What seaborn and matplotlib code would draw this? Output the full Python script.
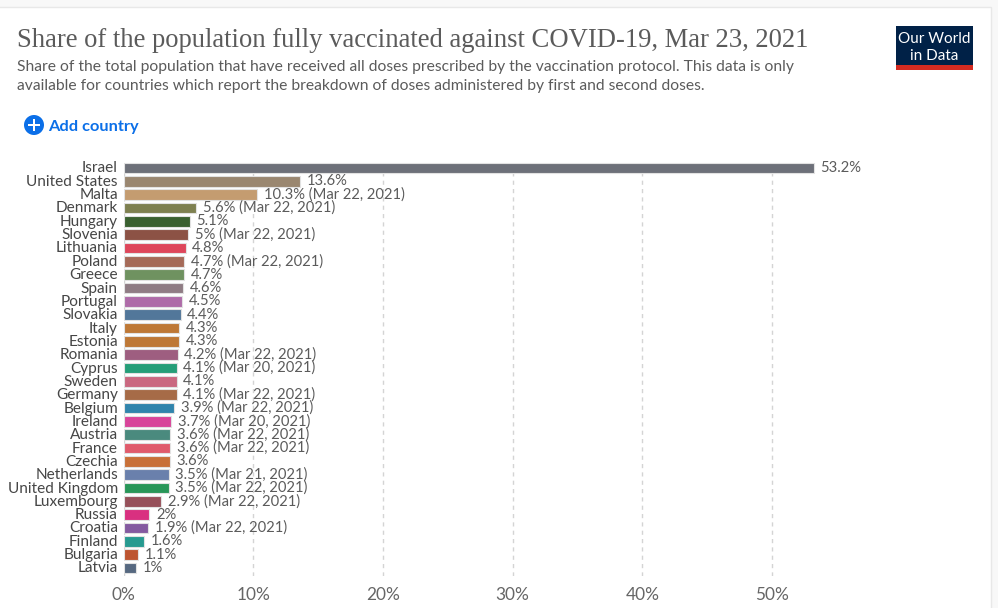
import matplotlib
matplotlib.use("Agg")
import matplotlib.pyplot as plt
from matplotlib.patches import Rectangle, Circle
from matplotlib.transforms import IdentityTransform, ScaledTranslation
import pandas as pd
import seaborn as sns

countries = ["Israel", "United States", "Malta", "Denmark", "Hungary", "Slovenia", "Lithuania", "Poland",
             "Greece", "Spain", "Portugal", "Slovakia", "Italy", "Estonia", "Romania", "Cyprus", "Sweden",
             "Germany", "Belgium", "Ireland", "Austria", "France", "Czechia", "Netherlands", "United Kingdom",
             "Luxembourg", "Russia", "Croatia", "Finland", "Bulgaria", "Latvia"]
values = [53.2, 13.6, 10.3, 5.6, 5.1, 5, 4.8, 4.7, 4.7, 4.6, 4.5, 4.4, 4.3, 4.3, 4.2, 4.1, 4.1, 4.1, 3.9,
          3.7, 3.6, 3.6, 3.6, 3.5, 3.5, 2.9, 2, 1.9, 1.6, 1.1, 1]
dates = ["", "", "Mar 22, 2021", "Mar 22, 2021", "", "Mar 22, 2021", "", "Mar 22, 2021", "", "", "", "", "", "",
         "Mar 22, 2021", "Mar 20, 2021", "", "Mar 22, 2021", "Mar 22, 2021", "Mar 20, 2021", "Mar 22, 2021",
         "Mar 22, 2021", "", "Mar 21, 2021", "Mar 22, 2021", "Mar 22, 2021", "", "Mar 22, 2021", "", "", ""]
colors = ["#6D7079", "#9A8770", "#C49C70", "#7E8050", "#3A6030", "#8C5245", "#DE465B", "#A56A58", "#6F9260",
          "#8F7C84", "#AE6BA8", "#52779A", "#BE7836", "#BE7836", "#9E5E80", "#259E78", "#CA6880", "#A66B47",
          "#3084AC", "#D8449A", "#4A8A7E", "#E05B6C", "#C87038", "#6A80AC", "#289658", "#96505A", "#D93080",
          "#845AA0", "#279A90", "#BD5530", "#566880"]
x_ticks = [0, 10, 20, 30, 40, 50]

W, H = 998, 608
sns.set_theme(style="white")
plt.rcParams["font.family"] = ["Lato", "DejaVu Sans"]

fig = plt.figure(figsize=(W / 100, H / 100), dpi=100, facecolor="#F8F8F8")


def fx(x):
    return x / W


def fy(y):
    return 1 - y / H


def px_rect(x0, y0, x1, y1, **kw):
    fig.patches.append(Rectangle((x0, H - y1), x1 - x0, y1 - y0, transform=IdentityTransform(), figure=fig, **kw))


# card and logo
px_rect(-3, 7, 991, 612, facecolor="white", edgecolor="#E8E8E8", linewidth=1)
px_rect(896, 26, 973, 65, facecolor="#002147", edgecolor="none")
px_rect(896, 65, 973, 70, facecolor="#D42B21", edgecolor="none")
fig.text(fx(934.5), fy(39), "Our World", color="white", fontsize=11.0, ha="center", va="center")
fig.text(fx(934.5), fy(55.5), "in Data", color="white", fontsize=11.0, ha="center", va="center")

# headings
fig.text(fx(17), fy(40.5), "Share of the population fully vaccinated against COVID-19, Mar 23, 2021",
         family="Liberation Serif", color="#5B5B5B", fontsize=19.2, ha="left", va="center")
fig.text(fx(17), fy(67),
         "Share of the total population that have received all doses prescribed by the vaccination protocol. This data is only",
         color="#5B5B5B", fontsize=11.27, ha="left", va="center")
fig.text(fx(17), fy(86),
         "available for countries which report the breakdown of doses administered by first and second doses.",
         color="#5B5B5B", fontsize=11.27, ha="left", va="center")

# add-country control
fig.patches.append(Circle((34, H - 125), 10, transform=IdentityTransform(), figure=fig,
                          facecolor="#0B6FE8", edgecolor="none"))
px_rect(28, 123.8, 40, 126.2, facecolor="white", edgecolor="none")
px_rect(32.8, 119, 35.2, 131, facecolor="white", edgecolor="none")
fig.text(fx(48), fy(126.5), "Add country", color="#0B6FE8", fontsize=11.8, fontweight="bold", ha="left", va="center")

# chart
left, right, top, bottom = 123.5, 900, 162, 576
ax = fig.add_axes([fx(left), fy(bottom), (right - left) / W, (bottom - top) / H])
ax.set_zorder(5)
ax.patch.set_alpha(0)
df = pd.DataFrame({"country": countries, "value": values})
sns.barplot(data=df, x="value", y="country", hue="country", palette=dict(zip(countries, colors)),
            order=countries, hue_order=countries, dodge=False, legend=False, width=0.8, saturation=1,
            edgecolor="#E2E2E2", linewidth=0.8, ax=ax, orient="h")

px_per_unit = 12.97
ax.set_xlim(0, (right - left) / px_per_unit)
spacing = (568 - 168) / 30
ax.set_ylim((bottom - 168) / spacing, (top - 168) / spacing)
ax.set_xticks(x_ticks)
ax.set_xticklabels([f"{t}%" for t in x_ticks], fontsize=12.4, color="#666666")
ax.set_xlabel("")
ax.set_ylabel("")
ax.tick_params(axis="x", length=0, pad=8)
ax.tick_params(axis="y", length=0, pad=4, labelsize=11.1, labelcolor="#464646")
nudge = ScaledTranslation(0, 1 / 100, fig.dpi_scale_trans)
for tl in ax.get_yticklabels():
    tl.set_transform(tl.get_transform() + nudge)
ax.grid(axis="x", color="#D4D4D4", linestyle=(0, (3, 3)), linewidth=1)
ax.grid(axis="y", visible=False)
ax.set_axisbelow(True)
for s in ax.spines.values():
    s.set_visible(False)

for i, (v, d) in enumerate(zip(values, dates)):
    label = f"{v:g}%" + (f" ({d})" if d else "")
    ax.annotate(label, (v, i), xytext=(6.5 * 0.72, 0), textcoords="offset points", ha="left", va="center",
                fontsize=10.6, color="#5B5B5B")

fig.savefig("out.png", dpi=100, facecolor=fig.get_facecolor())
